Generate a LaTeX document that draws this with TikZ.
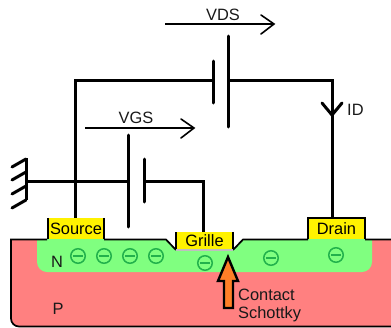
\documentclass[tikz,border=0pt]{standalone}
\usepackage{fontspec}
\setmainfont{Liberation Sans}
\definecolor{substrat}{HTML}{FF8080}
\definecolor{canal}{HTML}{80FF80}
\definecolor{contact}{HTML}{FFF200}
\definecolor{electron}{HTML}{22B14C}
\definecolor{fleche}{HTML}{FF7F27}
\tikzset{
  wire/.style={line width=3pt},
  plate/.style={line width=3pt, line cap=round},
  voltage/.style={line width=1.6pt},
  outline/.style={line width=1.7pt},
  label/.style={font=\fontsize{16.4}{18}\selectfont, inner sep=0pt, text=black!90},
  pad/.style={fill=contact, minimum width=56pt, inner sep=0pt, font=\fontsize{16.4}{18}\selectfont},
  minus/.style={circle, draw=electron, line width=1.5pt, minimum size=14.5pt, inner sep=0pt,
    path picture={\draw[electron, line width=1.5pt] ([xshift=-5pt]path picture bounding box.center) -- ([xshift=5pt]path picture bounding box.center);}}
}
\begin{document}
\begin{tikzpicture}[x=1pt, y=-1pt]
  \useasboundingbox (0, 0) rectangle (391, 327);
  % substrat
  \fill[substrat] (391, 239) -- (11, 239) [rounded corners=8pt] -- (11, 327) [sharp corners] -- (391, 327) -- cycle;
  \fill[canal] (37, 239) [rounded corners=10pt] -- (37, 272) -- (372, 272) [sharp corners] -- (372, 239) -- cycle;
  \fill[white] (166, 238) -- (176, 250) -- (233, 250) -- (243, 238) -- cycle;
  \draw[outline] (47, 239.5) -- (11, 239.5) [rounded corners=8pt] -- (11, 326.5) [sharp corners] -- (391, 326.5);
  \draw[outline] (104, 239.5) -- (166, 239.5) -- (176, 250)
    (233, 250) -- (243, 239.5) -- (308, 239.5) (365, 239.5) -- (391, 239.5);
  % contacts
  \node[pad, minimum height=21pt] (source) at (76, 228.5) {Source};
  \node[pad, minimum height=18pt] (grille) at (204.5, 241) {Grille};
  \node[pad, minimum height=21pt] (drain) at (336.5, 228.5) {Drain};
  \draw[outline] (source.south west) -- (source.north west) (source.north east) -- (source.south east);
  \draw[outline] (grille.south west) -- (grille.north west) (grille.north east) -- (grille.south east);
  \draw[outline] (drain.south west) -- (drain.north west) -- (drain.north east) -- (drain.south east);
  \draw[black!25, outline] (grille.south west) -- (grille.south east);
  % electrons
  \foreach \x/\y/\nom in {78/256/a, 104/256/b, 130/256/c, 156/256/d, 205/263/e, 271/258/f, 336/255/g}
    \node[minus] (e\nom) at (\x, \y) {};
  \node[label] (typen) at (57, 262) {N};
  \node[label] (typep) at (58, 309) {P};
  % fleche du contact
  \draw[fill=fleche, line width=2.4pt, line join=miter] (228, 257) -- (238, 281) -- (233, 281) -- (233, 308)
    -- (224, 308) -- (224, 281) -- (218, 281) -- cycle;
  \node[label, anchor=west] (contact) at (238, 295) {Contact};
  \node[label, anchor=west] (schottky) at (238, 314) {Schottky};
  % circuit
  \coordinate (topleft) at (75, 80);
  \coordinate (topright) at (332, 80);
  \coordinate (vdsneg) at (213, 80);
  \coordinate (vdspos) at (228, 80);
  \coordinate (vgspos) at (128, 181);
  \coordinate (vgsneg) at (144, 181);
  \coordinate (gnd) at (26, 181);
  \coordinate (gridetop) at (203, 181);
  \draw[wire] (source.north -| topleft) -- (topleft) -- (vdsneg);
  \draw[wire] (vdspos) -- (topright) -- (drain.north -| topright);
  \draw[wire] (gnd) -- (vgspos);
  \draw[wire] (vgsneg) -- (gridetop) -- (grille.north -| gridetop);
  \draw[plate] (213, 61) -- (213, 103);
  \draw[plate] (228, 36) -- (228, 127);
  \draw[plate] (128, 135) -- (128, 227);
  \draw[plate] (144, 159) -- (144, 202);
  % courant
  \draw[wire, line cap=round, line join=miter] (322, 103) -- (332, 115) -- (342, 103);
  \node[label, anchor=west] (id) at (347, 110) {ID};
  % masse
  \draw[wire] (26, 158) -- (26, 200);
  \foreach \y in {159, 172, 186, 200}
    \draw[wire, line cap=round] (26, \y) -- (12, \y + 8);
  % tensions
  \coordinate (vdsa) at (165, 24);
  \coordinate (vdsb) at (274, 24);
  \coordinate (vgsa) at (85, 128);
  \coordinate (vgsb) at (194, 128);
  \draw[voltage] (vdsa) -- (vdsb);
  \draw[voltage, line cap=round] (261, 15) -- (vdsb) -- (261, 34);
  \draw[voltage] (vgsa) -- (vgsb);
  \draw[voltage, line cap=round] (181, 119) -- (vgsb) -- (181, 138);
  \node[label] (vds) at (223, 15) {VDS};
  \node[label] (vgs) at (136, 118) {VGS};
\end{tikzpicture}
\end{document}
